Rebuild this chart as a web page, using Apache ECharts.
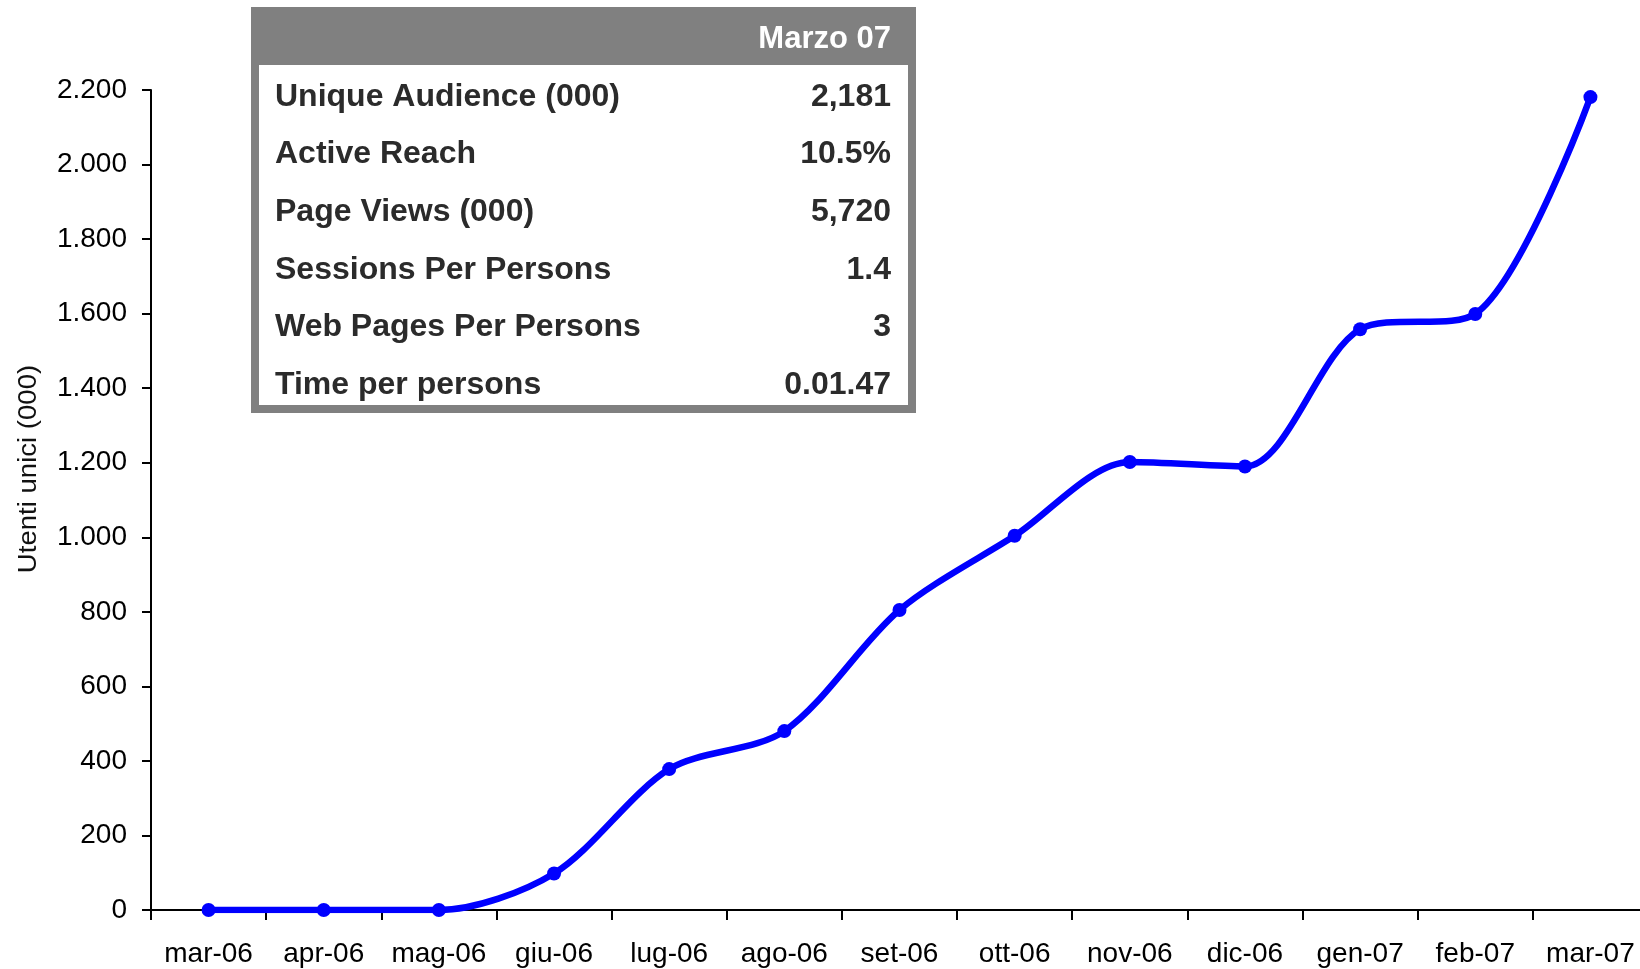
<!DOCTYPE html>
<html>
<head>
<meta charset="utf-8">
<script src="https://cdn.jsdelivr.net/npm/echarts@6/dist/echarts.min.js"></script>
<style>
  html, body { margin: 0; padding: 0; background: #fff; overflow: hidden; }
  /* slightly wider than the window: the last category runs past the right edge, as in the source */
  #chart { width: 1660px; height: 969px; }
</style>
</head>
<body>
<div id="chart"></div>
<script>
// monthly unique audience (000)
const months = ['mar-06', 'apr-06', 'mag-06', 'giu-06', 'lug-06', 'ago-06', 'set-06',
  'ott-06', 'nov-06', 'dic-06', 'gen-07', 'feb-07', 'mar-07']
const audience = [0, 0, 0, 98, 378, 480, 805, 1004, 1202, 1190, 1558, 1599, 2181]

// summary box
const boxTitle = 'Marzo 07'
const boxLabels = ['Unique Audience (000)', 'Active Reach', 'Page Views (000)',
  'Sessions Per Persons', 'Web Pages Per Persons', 'Time per persons']
const boxValues = ['2,181', '10.5%', '5,720', '1.4', '3', '0.01.47']

const axisTitle = 'Utenti unici (000)'

const font = '"Liberation Sans", Arial, sans-serif'
const lineColor = '#0000ff'

function formatThousands(value) {
  return String(value).replace(/\B(?=(\d{3})+(?!\d))/g, '.')
}

const chart = echarts.init(document.getElementById('chart'), null, { renderer: 'canvas' })

const boxGraphics = [
  {
    type: 'rect',
    shape: { x: 251, y: 7, width: 665, height: 406 },
    style: { fill: '#808080' }
  },
  {
    type: 'rect',
    shape: { x: 259, y: 65, width: 649, height: 340 },
    style: { fill: '#ffffff' }
  },
  {
    type: 'text',
    x: 891,
    y: 39,
    style: {
      text: boxTitle,
      fill: '#ffffff',
      font: 'bold 31px ' + font,
      align: 'right',
      verticalAlign: 'middle'
    }
  }
]

boxLabels.forEach((label, i) => {
  const y = 97 + i * 57.6
  boxGraphics.push({
    type: 'text',
    x: 275,
    y,
    style: { text: label, fill: '#2b2b2b', font: 'bold 32px ' + font, align: 'left', verticalAlign: 'middle' }
  })
  boxGraphics.push({
    type: 'text',
    x: 891,
    y,
    style: { text: boxValues[i], fill: '#2b2b2b', font: 'bold 32px ' + font, align: 'right', verticalAlign: 'middle' }
  })
})

boxGraphics.push({
  type: 'text',
  x: 29,
  y: 469,
  rotation: Math.PI / 2,
  scaleX: 1.06,
  style: {
    text: axisTitle,
    fill: '#111111',
    font: '26px ' + font,
    align: 'center',
    verticalAlign: 'middle'
  }
})

const option = {
  backgroundColor: '#ffffff',
  animation: false,
  grid: {
    left: 151,
    top: 90,
    width: 1497,
    height: 820
  },
  xAxis: {
    type: 'category',
    data: months,
    boundaryGap: true,
    axisLine: { lineStyle: { color: '#000000', width: 2 } },
    axisTick: { show: true, length: 10, lineStyle: { color: '#000000', width: 2 } },
    axisLabel: {
      color: '#000000',
      fontFamily: font,
      fontSize: 28,
      margin: 30,
      interval: 0
    },
    splitLine: { show: false }
  },
  yAxis: {
    type: 'value',
    min: 0,
    max: 2200,
    interval: 200,
    axisLine: { show: true, lineStyle: { color: '#000000', width: 2 } },
    axisTick: { show: true, length: 9, lineStyle: { color: '#000000', width: 2 } },
    axisLabel: {
      color: '#000000',
      fontFamily: font,
      fontSize: 28,
      margin: 24,
      formatter: formatThousands
    },
    splitLine: { show: false }
  },
  series: [
    {
      type: 'line',
      data: audience,
      smooth: 0.3,
      symbol: 'circle',
      symbolSize: 14,
      showAllSymbol: true,
      lineStyle: { color: lineColor, width: 6.5 },
      itemStyle: { color: lineColor }
    }
  ],
  graphic: boxGraphics
}

chart.setOption(option)
</script>
</body>
</html>
